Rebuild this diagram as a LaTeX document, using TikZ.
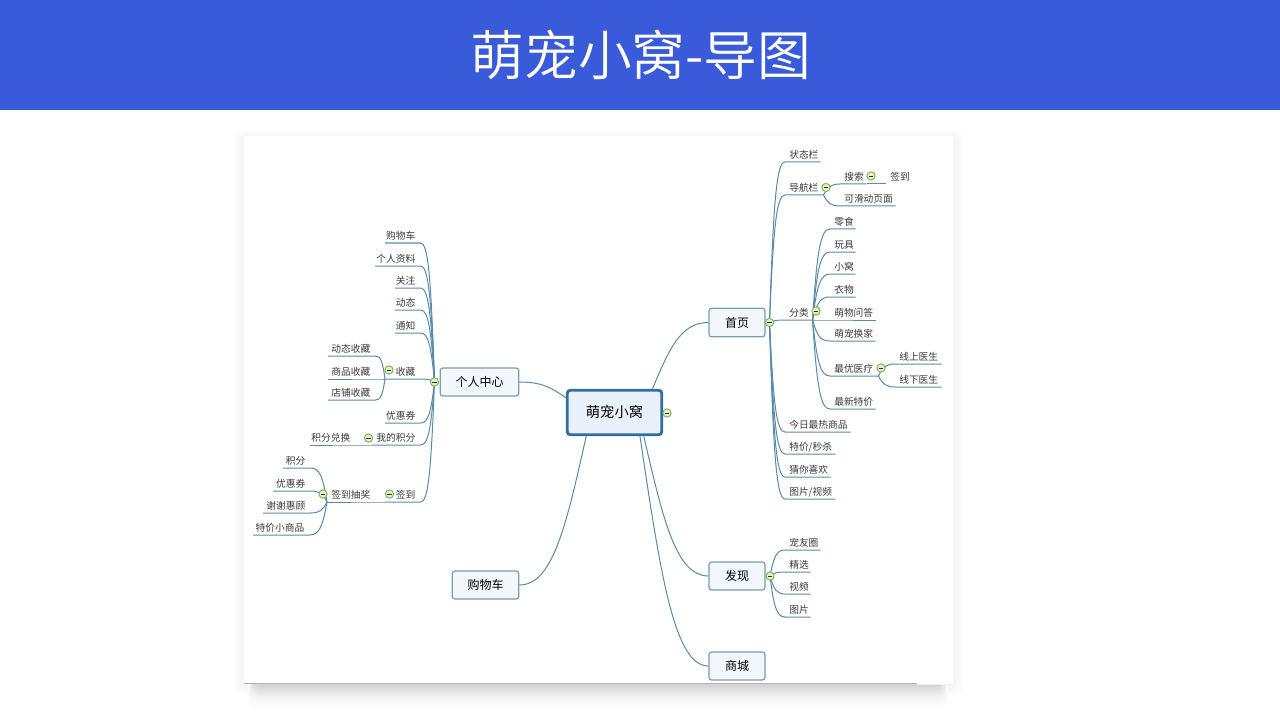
\documentclass[tikz,border=0pt]{standalone}
\usepackage{fontspec}
\setmainfont{Noto Sans CJK SC}
\newfontfamily\titlefont{Noto Sans CJK SC DemiLight}
\usetikzlibrary{calc}
\pgfdeclarelayer{top}
\pgfsetlayers{main,top}
\definecolor{banner}{HTML}{3A5BD9}
\definecolor{linkc}{HTML}{5A8BAA}
\definecolor{boxline}{HTML}{7A9CB4}
\definecolor{boxfill}{HTML}{F3F7FB}
\definecolor{rootline}{HTML}{2F6F9F}
\definecolor{rootfill}{HTML}{E8F0FA}
\definecolor{togline}{HTML}{7FB04F}
\definecolor{togfill}{HTML}{E6F0CF}
\definecolor{txt}{HTML}{3A3A3A}
\tikzset{
  conn/.style={draw=linkc,line width=0.75pt},
  leafnode/.style={inner xsep=0pt,inner ysep=1.6pt,text height=6.5pt,text depth=0.9pt,anchor=south west,font=\fontsize{7.3}{8}\selectfont,text=txt},
  boxnode/.style={draw=boxline,fill=boxfill,line width=0.9pt,rounded corners=2pt,font=\fontsize{9}{11}\selectfont,text=black,inner sep=0pt},
  rootnode/.style={draw=rootline,fill=rootfill,line width=2.1pt,rounded corners=2.5pt,font=\fontsize{10.7}{12}\selectfont,text=black,inner sep=0pt},
  tog/.style={circle,draw=togline,fill=togfill,line width=0.7pt,minimum size=6.2pt,inner sep=0pt,
    path picture={\draw[black!70!green,line width=0.6pt] ([xshift=1.4pt]path picture bounding box.west) -- ([xshift=-1.4pt]path picture bounding box.east);}},
}
% right-hand leaf: name, x1, x2, y of underline, text
\newcommand{\leafR}[5]{\pgfmathsetlengthmacro{\leafw}{0.75pt*(#3-#2)}
  \node[leafnode,minimum width=\leafw] (#1) at (#2,#4) {\makebox[\leafw][l]{\hspace{3pt}#5}};}
% left-hand leaf
\newcommand{\leafL}[5]{\pgfmathsetlengthmacro{\leafw}{0.75pt*(#3-#2)}
  \node[leafnode,minimum width=\leafw] (#1) at (#2,#4) {\makebox[\leafw][r]{#5\hspace{3.75pt}}};}
\newcommand{\rlink}[2]{\draw[conn] let \p1=(#1),\p2=(#2.south west) in (\p1) .. controls ({\x1+0.25*(\x2-\x1)},{\y1+0.75*(\y2-\y1)}) and ({\x1+0.45*(\x2-\x1)},\y2) .. (\p2) -- (#2.south east);}
\newcommand{\llink}[2]{\draw[conn] let \p1=(#1),\p2=(#2.south east) in (\p1) .. controls ({\x1+0.25*(\x2-\x1)},{\y1+0.75*(\y2-\y1)}) and ({\x1+0.45*(\x2-\x1)},\y2) .. (\p2) -- (#2.south west);}
\newcommand{\blink}[2]{\draw[conn] let \p1=(#1),\p2=(#2) in (\p1) .. controls ({\x1+0.3*(\x2-\x1)},{\y1+0.6*(\y2-\y1)}) and ({\x1+0.5*(\x2-\x1)},\y2) .. (\p2);}
\begin{document}
\begin{tikzpicture}[x=0.75pt,y=-0.75pt]
\useasboundingbox (0,0) rectangle (1280,720);
\fill[white] (0,0) rectangle (1280,720);
% soft shadow of the card: faint all round, stronger below
\foreach \i in {0,...,9}{
  \pgfmathsetmacro{\shade}{0.4*\i}
  \fill[black!\shade!white,rounded corners=5pt] ({232+\i},{130+0.6*\i}) rectangle ({965-\i},{696-\i});
}
\foreach \i in {0,...,20}{
  \pgfmathsetmacro{\shade}{1+0.03*\i*\i+0.2*\i}
  \fill[black!\shade!white,rounded corners=5pt] ({248+\i*0.3},670) rectangle ({948-\i*0.3},{706-\i});
}
\fill[white] (244,136) rectangle (953,684);
\draw[black!30,line width=0.75pt] (244,683.6) -- (917,683.6);
\fill[black!6] (917,683.6) rectangle (953,684.6);
% banner
\fill[banner] (0,0) rectangle (1280,110);
\node[text=white,font=\titlefont\fontsize{40.3}{44}\selectfont,inner sep=0pt] (title) at (641,55) {萌宠小窝-导图};

% main boxes
\node[rootnode,minimum width=71pt,minimum height=33.5pt] (root) at (614.5,412.5) {萌宠小窝};
\node[boxnode,minimum width=42pt,minimum height=21.5pt] (home) at (737,322.5) {首页};
\node[boxnode,minimum width=42pt,minimum height=21pt] (find) at (737,576) {发现};
\node[boxnode,minimum width=42pt,minimum height=21pt] (shop) at (737,666) {商城};
\node[boxnode,minimum width=59pt,minimum height=21pt] (me) at (479.5,382) {个人中心};
\node[boxnode,minimum width=50pt,minimum height=21pt] (cart) at (485.5,585) {购物车};

\blink{root.32}{home.west}
\blink{root.163}{me.east}
\blink{root.220}{cart.east}
\blink{root.-39}{find.west}
\blink{root.-43}{shop.west}

% toggles
\begin{pgfonlayer}{top}
\node[tog] (trootT) at (667,413) {};
\node[tog] (homeT) at (769.5,322.5) {};
\node[tog] (navT) at (826,187.5) {};
\node[tog] (searchT) at (871,176) {};
\node[tog] (catT) at (816,311) {};
\node[tog] (medT) at (881,368) {};
\node[tog] (findT) at (770,576) {};
\node[tog] (meT) at (434.5,382) {};
\node[tog] (favT) at (389,370) {};
\node[tog] (ptsT) at (368.5,438) {};
\node[tog] (signT) at (389.5,494) {};
\node[tog] (lotT) at (323,494) {};
\end{pgfonlayer}

% home branch
\leafR{status}{785}{820}{162}{状态栏}
\leafR{nav}{785}{823}{195}{导航栏}
\leafR{cat}{785}{812}{320}{分类}
\leafR{hot}{785}{850}{432}{今日最热商品}
\leafR{sale}{785}{835}{454}{特价/秒杀}
\leafR{like}{785}{830}{477}{猜你喜欢}
\leafR{media}{785}{835}{499}{图片/视频}
\foreach \t in {status,nav,cat,hot,sale,like,media}{\rlink{homeT.center}{\t}}

\leafR{search}{840}{866}{184}{搜索}
\leafR{sign}{886}{910}{184}{签到}
\leafR{swipe}{840}{895}{206}{可滑动页面}
\rlink{nav.south east}{search}
\rlink{nav.south east}{swipe}
\draw[conn] (search.south east) -- (sign.south west);

\leafR{snack}{830}{855}{229}{零食}
\leafR{toy}{830}{855}{252}{玩具}
\leafR{nest}{830}{855}{274}{小窝}
\leafR{cloth}{830}{855}{297}{衣物}
\leafR{ask}{830}{875}{320}{萌物问答}
\leafR{swap}{830}{875}{341}{萌宠换家}
\leafR{med}{830}{878}{376}{最优医疗}
\leafR{deal}{830}{875}{409}{最新特价}
\foreach \t in {snack,toy,nest,cloth,ask,swap,med,deal}{\rlink{cat.south east}{\t}}

\leafR{docon}{895}{941}{364}{线上医生}
\leafR{docoff}{895}{941}{387}{线下医生}
\rlink{med.south east}{docon}
\rlink{med.south east}{docoff}

% find branch
\leafR{circle}{785}{820}{550}{宠友圈}
\leafR{pick}{785}{810}{572}{精选}
\leafR{video}{785}{810}{594}{视频}
\leafR{pic}{785}{810}{617}{图片}
\foreach \t in {circle,pick,video,pic}{\rlink{findT.center}{\t}}

% me branch
\leafL{mcart}{385}{420}{243}{购物车}
\leafL{info}{375}{420}{266}{个人资料}
\leafL{follow}{395}{420}{288}{关注}
\leafL{news}{395}{420}{310}{动态}
\leafL{notice}{395}{420}{333}{通知}
\leafL{fav}{385}{420}{379}{收藏}
\leafL{coupon}{385}{420}{423}{优惠券}
\leafL{pts}{372}{420}{445}{我的积分}
\leafL{checkin}{385}{420}{502}{签到}
\foreach \t in {mcart,info,follow,news,notice,fav,coupon,pts,checkin}{\llink{meT.center}{\t}}

\leafL{favnews}{328}{375}{356}{动态收藏}
\leafL{favgoods}{328}{375}{379}{商品收藏}
\leafL{favshop}{328}{375}{400}{店铺收藏}
\foreach \t in {favnews,favgoods,favshop}{\llink{fav.south west}{\t}}

\leafL{redeem}{310}{355}{445}{积分兑换}
\draw[conn] (pts.south west) -- (redeem.south east) -- (redeem.south west);

\leafL{lot}{327}{375}{502}{签到抽奖}
\draw[conn] (checkin.south west) -- (lot.south east) -- (lot.south west);

\leafL{lpts}{283}{310}{468}{积分}
\leafL{lcoupon}{273}{310}{491}{优惠券}
\leafL{lthanks}{263}{310}{513}{谢谢惠顾}
\leafL{lgoods}{253}{309}{535}{特价小商品}
\foreach \t in {lpts,lcoupon,lthanks,lgoods}{\llink{lot.south west}{\t}}
\end{tikzpicture}
\end{document}
